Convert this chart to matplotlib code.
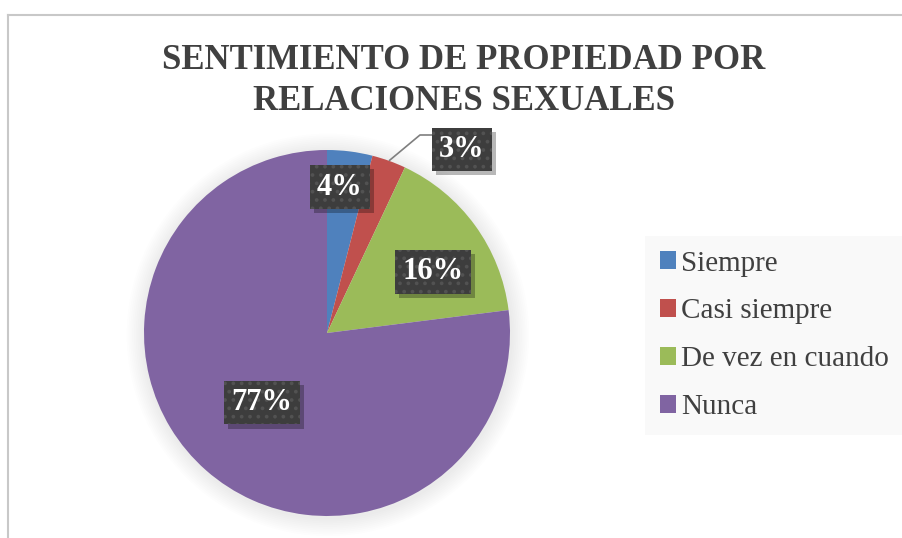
import matplotlib
matplotlib.use("Agg")
import matplotlib.pyplot as plt
import matplotlib.patheffects as pe
from matplotlib.patches import Circle, Rectangle
from matplotlib.lines import Line2D
import numpy as np

plt.rcParams['font.family'] = ['Liberation Serif', 'DejaVu Serif']
plt.rcParams['hatch.linewidth'] = 1.5

title = "SENTIMIENTO DE PROPIEDAD POR\nRELACIONES SEXUALES"
categories = ["Siempre", "Casi siempre", "De vez en cuando", "Nunca"]
values = [4, 3, 16, 77]
labels = ["4%", "3%", "16%", "77%"]
colors = ["#4f81bd", "#c0504d", "#9bbb59", "#8064a2"]


class PlainShadow(pe.AbstractPathEffect):
    """Drop shadow without the hatch of the source patch."""
    def __init__(self, offset=(3, -3), alpha=0.3):
        super().__init__(offset)
        self.alpha = alpha

    def draw_path(self, renderer, gc, tpath, affine, rgbFace):
        gc0 = renderer.new_gc()
        gc0.copy_properties(gc)
        gc0.set_hatch(None)
        gc0.set_linewidth(0)
        gc0.set_alpha(self.alpha)
        renderer.draw_path(gc0, tpath, affine + self._offset_transform(renderer), (0, 0, 0))
        gc0.restore()


fig = plt.figure(figsize=(9.03, 5.38), dpi=100)
fig.patch.set_facecolor("white")

# chart border (top and left only visible)
fig.add_artist(Line2D([8/903, 8/903], [0, 1 - 15/538], transform=fig.transFigure, color="#c8c8c8", lw=1.5))
fig.add_artist(Line2D([8/903, 1], [1 - 15/538, 1 - 15/538], transform=fig.transFigure, color="#c8c8c8", lw=1.5))

ax = fig.add_axes([144/903, 22/538, 366/903, 366/538])

# soft shadow around the pie
for i in range(10):
    ax.add_patch(Circle((0.005, -0.01), 1.0 + 0.01 * (i + 1), facecolor="#000000",
                        alpha=0.007, edgecolor="none", zorder=0, clip_on=False))

wedges, _ = ax.pie(values, colors=colors, startangle=90, counterclock=False, radius=1.0,
                   wedgeprops=dict(edgecolor="none", linewidth=0))
for w in wedges:
    w.set_zorder(2)
ax.set_xlim(-1.0, 1.0)
ax.set_ylim(-1.0, 1.0)
ax.set_aspect("equal")
ax.axis("off")

# label layout: (radius, angle in degrees) per label
label_layout = [(0.80, 85.0), (1.245, 53.7), (0.67, 30.0), (0.52, 227.0)]
bbox = dict(boxstyle="square,pad=0.24", facecolor="#3d3d3d", edgecolor="#525252",
            linewidth=0, hatch="..")
for w, lab, (r, ang) in zip(wedges, labels, label_layout):
    x, y = r * np.cos(np.radians(ang)), r * np.sin(np.radians(ang))
    t = ax.text(x, y, lab, ha="center", va="center", fontsize=22, fontweight="bold",
                color="white", bbox=bbox, zorder=5)
    t.get_bbox_patch().set_path_effects([PlainShadow((3, -3), 0.28), pe.Normal()])

# leader line for the 3% label
mid = np.radians(90 - (values[0] + values[1] / 2) / sum(values) * 360)
ax.plot([np.cos(mid), 0.508, 0.58], [np.sin(mid), 1.082, 1.082],
        color="#7f7f7f", lw=1.2, zorder=3, solid_capstyle="butt", clip_on=False)

fig.text(464/903, 1 - 81/538, title, ha="center", va="center",
         fontsize=25, fontweight="bold", color="#404040", linespacing=1.3)

handles = [Rectangle((0, 0), 1, 1, facecolor=c, edgecolor="none") for c in colors]
leg = fig.legend(handles, categories, loc="upper left",
                 bbox_to_anchor=(645/903, 1 - 236/538), frameon=True, fontsize=21,
                 handlelength=0.55, handleheight=0.55, handletextpad=0.2,
                 labelspacing=0.75, borderpad=0.5, borderaxespad=0, labelcolor="#404040")
leg.get_frame().set_facecolor("#f8f8f8")
leg.get_frame().set_edgecolor("none")
leg.get_frame().set_boxstyle("square", pad=0)

fig.savefig("out.png", dpi=100)
